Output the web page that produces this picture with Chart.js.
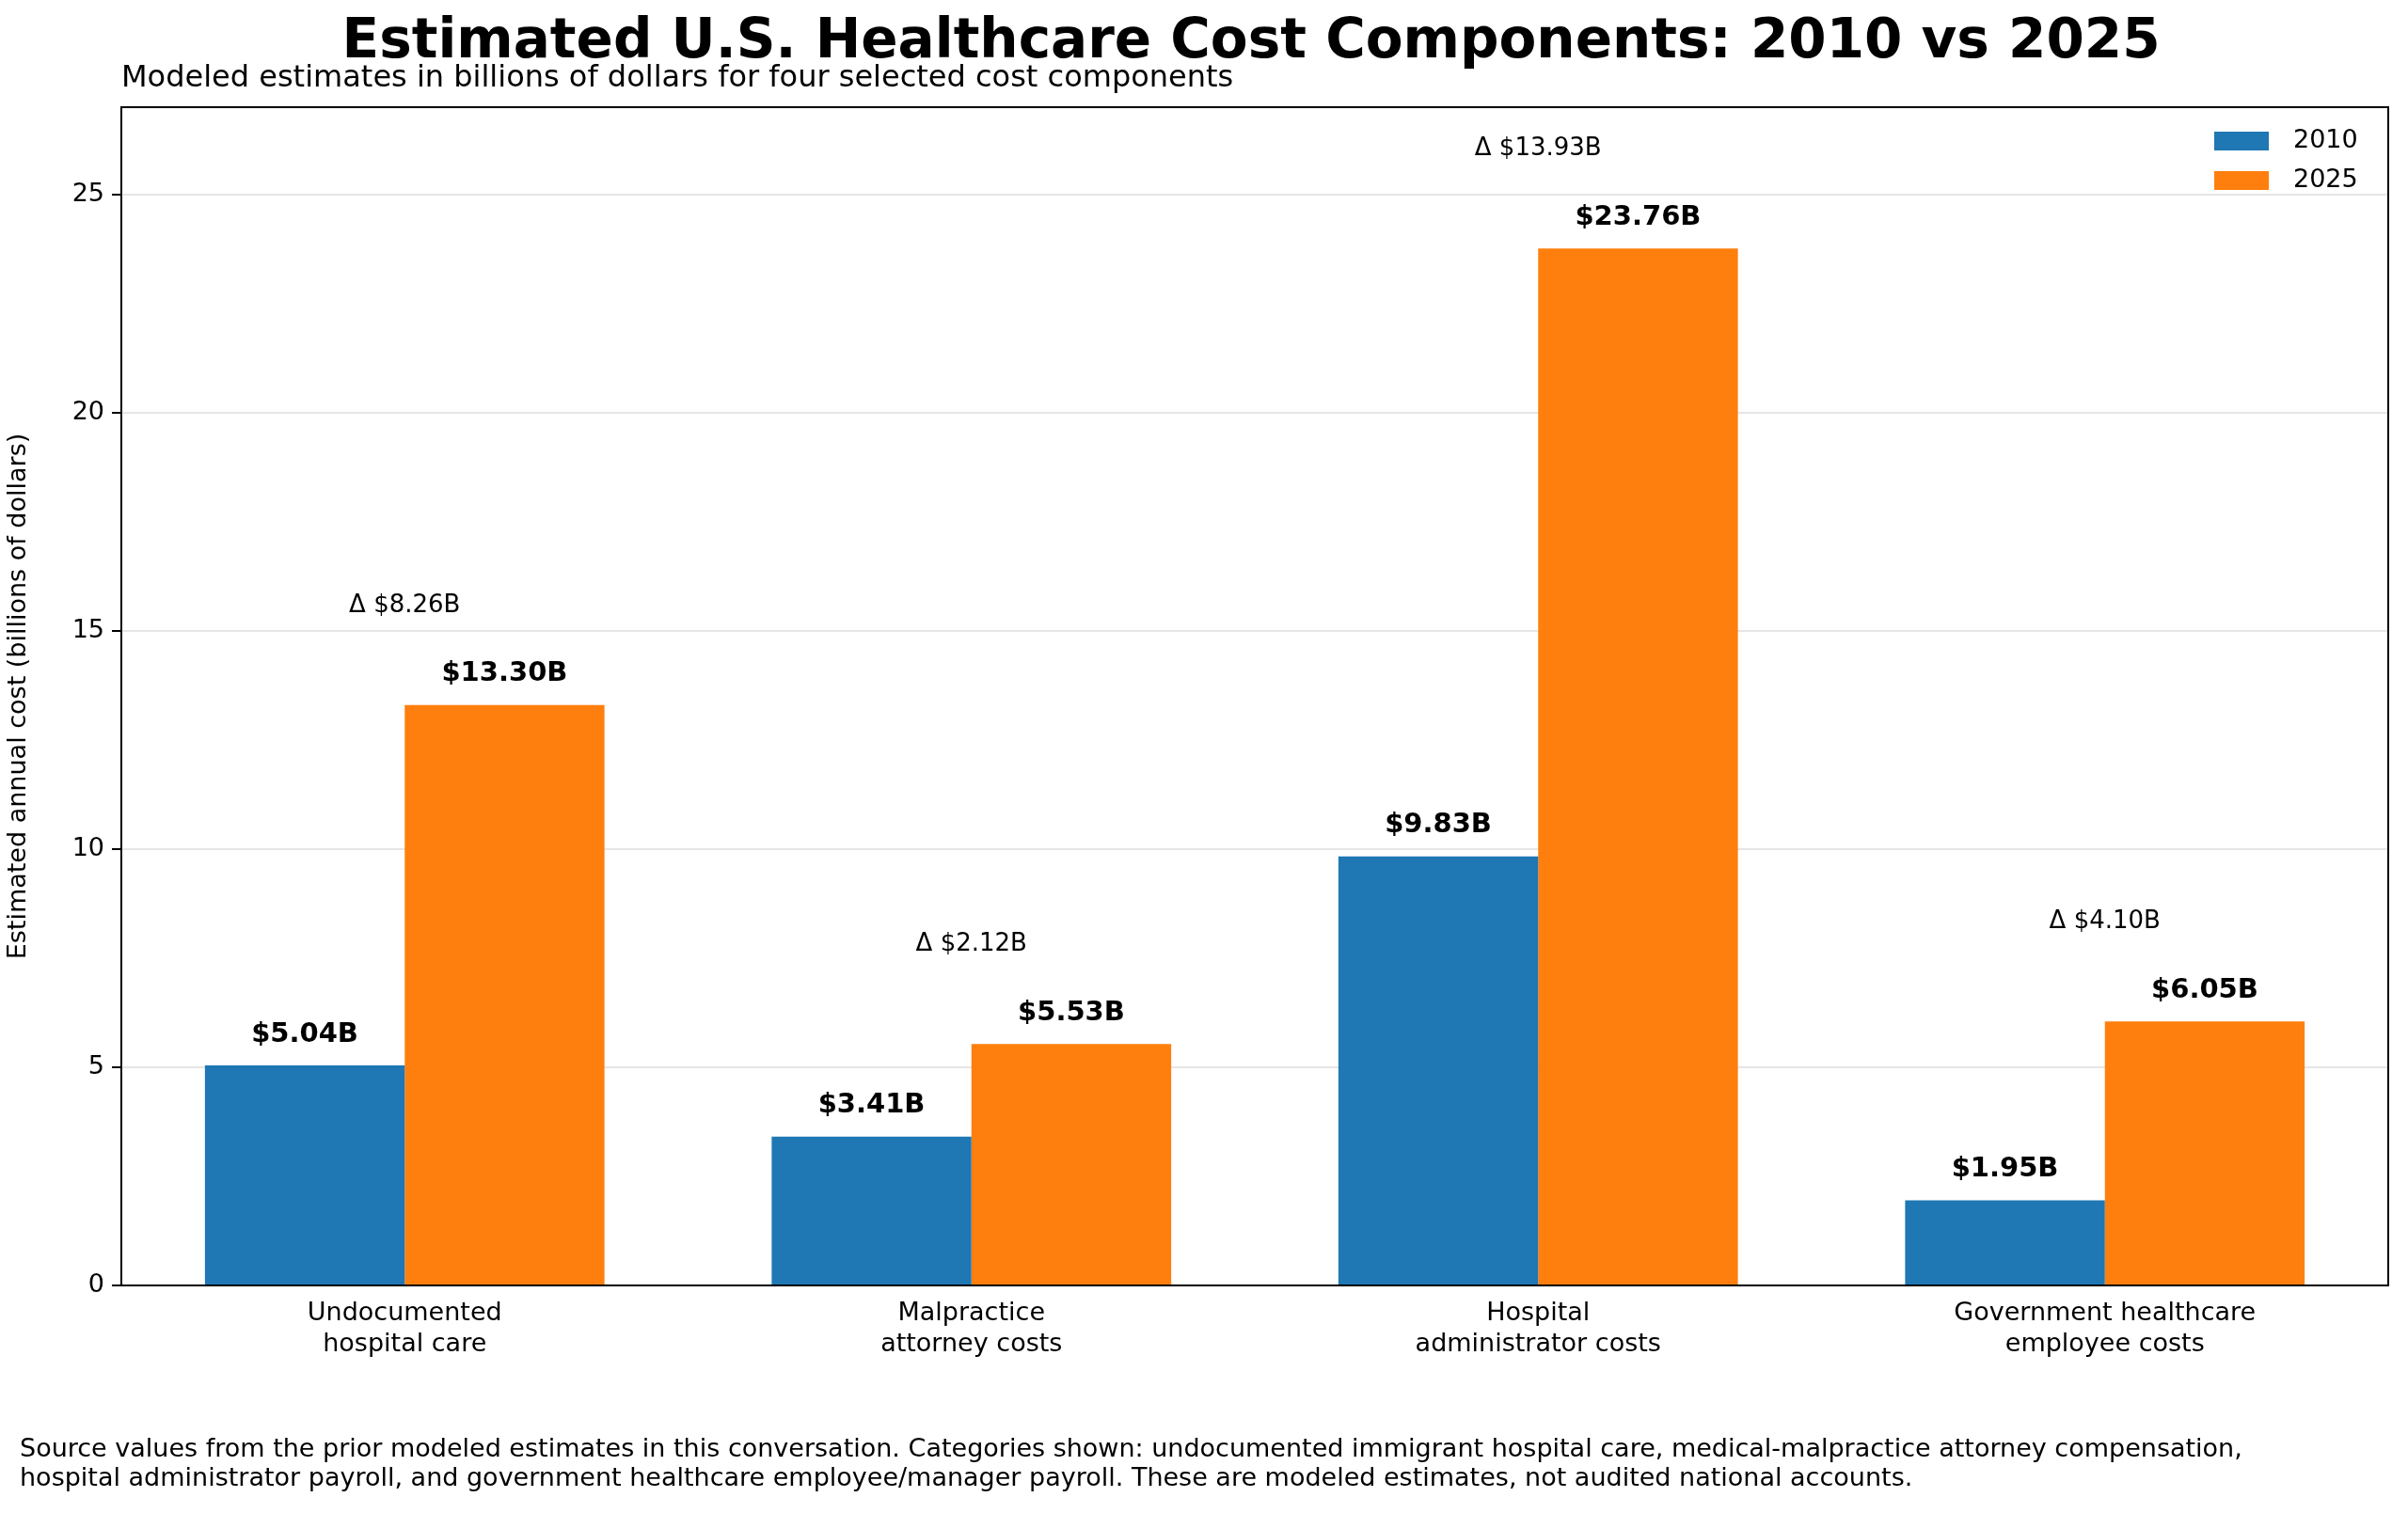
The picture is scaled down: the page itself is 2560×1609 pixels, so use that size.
<!DOCTYPE html>
<html><head><meta charset="utf-8">
<script src="https://cdn.jsdelivr.net/npm/chart.js@4"></script>
<style>html,body{margin:0;padding:0;background:#fff}canvas{display:block}</style>
</head><body>
<div style="width:2560px;height:1609px"><canvas id="c"></canvas></div>
<script>
const categories = [["Undocumented","hospital care"],["Malpractice","attorney costs"],["Hospital","administrator costs"],["Government healthcare","employee costs"]];
const values2010 = [5.04, 3.41, 9.83, 1.95];
const values2025 = [13.30, 5.53, 23.76, 6.05];
const yTicks = [0,5,10,15,20,25];
const FONT = "'DejaVu Sans', sans-serif";

const overlay = {
  id:'overlay',
  afterDatasetsDraw(chart){
    const ctx = chart.ctx, a = chart.chartArea, x = chart.scales.x, y = chart.scales.y;
    ctx.save();
    // frame
    ctx.strokeStyle='#000'; ctx.lineWidth=2;
    ctx.strokeRect(a.left, a.top, a.right-a.left, a.bottom-a.top);
    // value labels
    ctx.fillStyle='#000'; ctx.textAlign='center'; ctx.textBaseline='bottom';
    chart.data.datasets.forEach((ds,di)=>{
      const meta = chart.getDatasetMeta(di);
      meta.data.forEach((bar,i)=>{
        ctx.font = "bold 29px "+FONT;
        ctx.fillText('$'+ds.data[i].toFixed(2)+'B', bar.x, y.getPixelForValue(ds.data[i]+0.4));
      });
    });
    // delta labels
    ctx.font = "26px "+FONT;
    values2010.forEach((v,i)=>{
      const d = values2025[i]-v;
      const top = Math.max(v, values2025[i]);
      ctx.fillText('Δ $'+d.toFixed(2)+'B', x.getPixelForValue(i), y.getPixelForValue(top+2.0));
    });
    // legend
    const lx = a.right-185, ly = a.top+26;
    [['2010','#1f77b4'],['2025','#ff7f0e']].forEach((l,i)=>{
      ctx.fillStyle=l[1]; ctx.fillRect(lx, ly+i*42, 58, 20);
      ctx.fillStyle='#000'; ctx.textAlign='left'; ctx.textBaseline='middle';
      ctx.font="27px "+FONT; ctx.fillText(l[0], lx+84, ly+i*42+10);
    });
    // titles
    ctx.textAlign='center'; ctx.textBaseline='middle';
    ctx.font="bold 58px "+FONT;
    ctx.fillText('Estimated U.S. Healthcare Cost Components: 2010 vs 2025', 1330, 46);
    ctx.textAlign='left'; ctx.font="32px "+FONT;
    ctx.fillText('Modeled estimates in billions of dollars for four selected cost components', 129, 84);
    ctx.font="27px "+FONT;
    ctx.fillText('Source values from the prior modeled estimates in this conversation. Categories shown: undocumented immigrant hospital care, medical-malpractice attorney compensation,', 21, 1542);
    ctx.fillText('hospital administrator payroll, and government healthcare employee/manager payroll. These are modeled estimates, not audited national accounts.', 21, 1573);
    ctx.restore();
  }
};

new Chart(document.getElementById('c'), {
  type:'bar',
  data:{labels:categories, datasets:[
    {label:'2010', data:values2010, backgroundColor:'#1f77b4', categoryPercentage:0.705, barPercentage:1},
    {label:'2025', data:values2025, backgroundColor:'#ff7f0e', categoryPercentage:0.705, barPercentage:1}
  ]},
  options:{
    responsive:true, maintainAspectRatio:false, animation:false,
    devicePixelRatio:1,
    layout:{padding:{top:114,right:21,left:0,bottom:0}},
    plugins:{legend:{display:false},tooltip:{enabled:false},title:{display:false}},
    scales:{
      x:{grid:{display:false,drawTicks:true}, border:{color:'#000',width:2},
         ticks:{color:'#000',font:{family:FONT,size:27},padding:6},
         afterFit(s){s.height=242;}},
      y:{min:0,max:27, afterBuildTicks(s){s.ticks=yTicks.map(v=>({value:v}));},
         grid:{color:'#e6e6e6',lineWidth:2,tickColor:'#000',tickLength:10},
         border:{color:'#000',width:2},
         ticks:{color:'#000',font:{family:FONT,size:27},padding:8},
         title:{display:true,text:'Estimated annual cost (billions of dollars)',color:'#000',font:{family:FONT,size:27}},
         afterFit(s){s.width=129;}}
    }
  },
  plugins:[overlay]
});
</script>
</body></html>
